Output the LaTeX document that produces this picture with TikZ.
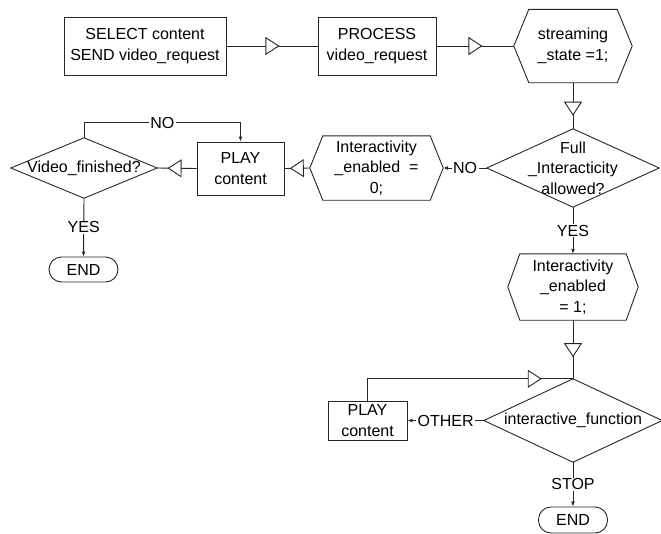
\documentclass[tikz,border=0pt]{standalone}
\usepackage{fontspec}
\setmainfont{Liberation Sans}
\usetikzlibrary{arrows.meta,decorations.markings}

% outline of a hexagon around a rectangular node, #2 = side indent
\newcommand\hexframe[2]{%
  \draw[line] ([xshift=#2]#1.north west) -- ([xshift=-#2]#1.north east) -- (#1.east)
    -- ([xshift=-#2]#1.south east) -- ([xshift=#2]#1.south west) -- (#1.west) -- cycle;}
% outline of a decision diamond around a rectangular node
\newcommand\diamframe[1]{%
  \draw[line] (#1.north) -- (#1.east) -- (#1.south) -- (#1.west) -- cycle;}

\tikzset{
  every node/.style={font=\fontsize{16}{20.5}\selectfont, align=center, inner sep=0pt},
  line/.style={draw=black!85, line width=0.9pt},
  proc/.style={line, rectangle},
  shapebox/.style={rectangle},
  term/.style={line, rectangle, rounded corners=12.5pt},
  flow/.style={line, postaction={decorate}, decoration={markings,
      mark=at position #1 with {\arrow{Triangle[length=14pt,width=18pt,fill=white,line width=0.9pt]}}}},
  cond/.style={line, -{Latex[length=5pt,width=4pt]}},
  lbl/.style={fill=white, inner xsep=1.5pt, inner ysep=1pt},
}

\begin{document}
\begin{tikzpicture}[x=1pt, y=-1pt]
  \useasboundingbox (0,0) rectangle (661,533);

  % request phase
  \node[proc, minimum width=162pt, minimum height=58pt] (sel) at (145,46)
       {SELECT content\\SEND video\_request};
  \node[proc, minimum width=118pt, minimum height=58pt] (prc) at (377,46)
       {PROCESS\\video\_request};
  \node[shapebox, minimum width=118pt, minimum height=73pt] (str) at (573,46)
       {streaming\\\_state =1;};
  \hexframe{str}{15pt}

  % interactivity decision
  \node[shapebox, minimum width=172pt, minimum height=78pt] (full) at (573,168)
       {Full\\\_Interacticity\\allowed?};
  \diamframe{full}
  \node[shapebox, minimum width=133pt, minimum height=64pt] (ie0) at (376.5,168)
       {Interactivity\\\_enabled\ \ =\\0;};
  \hexframe{ie0}{13pt}
  \node[proc, minimum width=87pt, minimum height=53pt] (play1) at (240.5,168.5)
       {PLAY\\content};
  \node[shapebox, minimum width=146pt, minimum height=60pt] (vf) at (84,168)
       {Video\_finished?};
  \diamframe{vf}
  \node[term, minimum width=69pt, minimum height=25pt] (end1) at (83.5,269.5) {END};

  % interactive branch
  \node[shapebox, minimum width=130pt, minimum height=66pt] (ie1) at (573,287)
       {Interactivity\\\_enabled\\= 1;};
  \hexframe{ie1}{12pt}
  \node[shapebox, minimum width=178pt, minimum height=83pt] (ifn) at (573,420.5)
       {interactive\_function};
  \diamframe{ifn}
  \node[proc, minimum width=79pt, minimum height=39pt] (play2) at (367.5,420.5)
       {PLAY\\content};
  \node[term, minimum width=69pt, minimum height=26pt] (end2) at (573,520) {END};

  % connectors
  \draw[flow=53pt] (sel.east) -- (prc.west);
  \draw[flow=46pt] (prc.east) -- (str.west);
  \draw[flow=33pt] (str.south) -- (full.north);
  \draw[cond] (full.west) -- node[lbl] {NO} (ie0.east);
  \draw[flow=20pt] (ie0.west) -- (play1.east);
  \draw[flow=29pt] (play1.west) -- (vf.east);
  \draw[cond] (vf.north) -- ++(0,-15) -| node[lbl, pos=0.25] {NO} (play1.north);
  \draw[cond] (vf.south) -- node[lbl] {YES} (end1.north);
  \draw[cond] (full.south) -- node[lbl] {YES} (ie1.north);
  \draw[flow=37pt] (ie1.south) -- (ifn.north);
  \draw[flow=196pt] (play2.north) |- (ifn.north);
  \draw[cond] (ifn.west) -- node[lbl] {OTHER} (play2.east);
  \draw[cond] (ifn.south) -- node[lbl] {STOP} (end2.north);
\end{tikzpicture}
\end{document}
